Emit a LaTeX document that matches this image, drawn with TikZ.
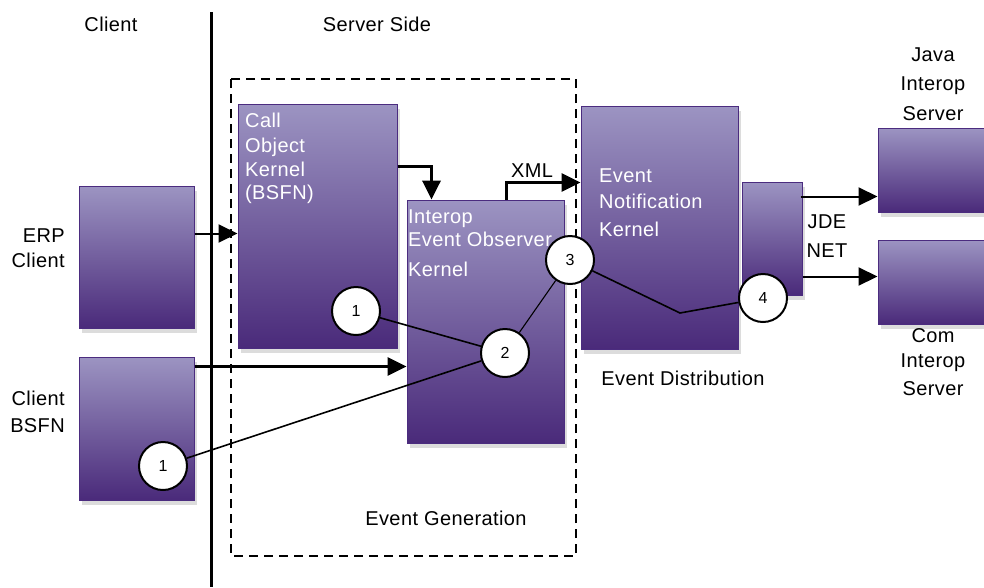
\documentclass[tikz,border=0pt]{standalone}
\usepackage{fontspec}
\setmainfont{Liberation Sans}[LetterSpace=2]
\usetikzlibrary{arrows.meta,shadows,calc}
\definecolor{boxtop}{HTML}{9C94C2}
\definecolor{boxbot}{HTML}{4A2A7A}
\definecolor{boxedge}{HTML}{4B2C7F}
\definecolor{shadowgray}{HTML}{DCDCDC}
\begin{document}
\begin{tikzpicture}[x=1pt,y=-1pt,
  txt/.style={font=\fontsize{20}{24}\selectfont, inner sep=0pt},
  lbl/.style={txt, text=black, anchor=base},
  lblr/.style={txt, text=black, anchor=base east},
  wtxt/.style={txt, text=white, anchor=base west},
  box/.style={draw=boxedge, line width=1pt, top color=boxtop, bottom color=boxbot,
    inner sep=0pt,
    general shadow={fill=shadowgray, shadow xshift=3pt, shadow yshift=-5pt}},
  num/.style={circle, draw=black, line width=2pt, fill=white, minimum size=48pt,
    inner sep=0pt, font=\fontsize{16}{18}\selectfont},
  arr/.style={draw=black, -{Triangle[length=19pt,width=18pt]}},
  link/.style={draw=black, line width=1.6pt},
]
\useasboundingbox (0,0) rectangle (984,587);

% client / server divider and the event-generation frame
\draw[line width=3pt] (211,12) coordinate (divtop) -- (211,587) coordinate (divbot);
\draw[line width=2pt, dash pattern=on 9pt off 6pt] (231,79) coordinate (fr1) rectangle (576,556) coordinate (fr2);

% column headings
\node[lbl] (hclient) at (111,31) {Client};
\node[lbl] (hserver) at (377,31) {Server Side};

% boxes
\node[box, minimum width=115pt, minimum height=142pt] (erp)   at (136.5,257) {};
\node[box, minimum width=115pt, minimum height=143pt] (cbsfn) at (136.5,428.5) {};
\node[box, minimum width=159pt, minimum height=244pt] (call)  at (317.5,226) {};
\node[box, minimum width=157pt, minimum height=243pt] (iobs)  at (485.5,321.5) {};
\node[box, minimum width=157pt, minimum height=243pt] (enk)   at (659.5,227.5) {};
\node[box, minimum width=60pt,  minimum height=113pt] (jde)   at (772,238.5) {};
\node[box, minimum width=108pt, minimum height=84pt]  (java)  at (932,170) {};
\node[box, minimum width=108pt, minimum height=84pt]  (com)   at (932,282) {};

% texts inside boxes
\node[wtxt] (t1) at (245,127) {Call};
\node[wtxt] (t2) at (245,152) {Object};
\node[wtxt] (t3) at (245,176) {Kernel};
\node[wtxt] (t4) at (245,199) {(BSFN)};
\node[wtxt] (t5) at (408,223) {Interop};
\node[wtxt] (t6) at (408,246) {Event Observer};
\node[wtxt] (t7) at (408,276) {Kernel};
\node[wtxt] (t8) at (599,182) {Event};
\node[wtxt] (t9) at (599,208) {Notification};
\node[wtxt] (t10) at (599,236) {Kernel};

% outside labels
\node[lblr] (l1) at (65,242) {ERP};
\node[lblr] (l2) at (65,267) {Client};
\node[lblr] (l3) at (65,405) {Client};
\node[lblr] (l4) at (65,432) {BSFN};
\node[lbl] (l5) at (933,61) {Java};
\node[lbl] (l6) at (933,90) {Interop};
\node[lbl] (l7) at (933,120) {Server};
\node[lbl] (l8) at (933,342) {Com};
\node[lbl] (l9) at (933,367) {Interop};
\node[lbl] (l10) at (933,395) {Server};
\node[lbl] (l11) at (827,228) {JDE};
\node[lbl] (l12) at (827,257) {NET};
\node[lbl] (l13) at (532,177) {XML};
\node[lbl] (l14) at (683,385) {Event Distribution};
\node[lbl] (l15) at (446,525) {Event Generation};

% arrows
\coordinate (a1) at ($(erp.north east)+(0,48)$);
\draw[arr, line width=2pt] (a1) -- (a1 -| call.west);
\coordinate (a2) at ($(cbsfn.north east)+(0,10)$);
\draw[arr, line width=3pt] (a2) -- (a2 -| iobs.west);
\draw[arr, line width=3.5pt] ($(call.north east)+(0,63)$) -| ($(iobs.north west)+(25,0)$);
\draw[arr, line width=3pt] ($(iobs.north west)+(100,0)$) |- ($(enk.north west)+(0,77)$);
\coordinate (a3) at ($(jde.north east)+(-2,15)$);
\draw[arr, line width=2pt] (a3) -- (a3 -| java.west);
\coordinate (a4) at ($(jde.north east)+(0,95)$);
\draw[arr, line width=2pt] (a4) -- (a4 -| com.west);

% numbered event steps
\node[num] (n1a) at (356,311) {1};
\node[num] (n1b) at (163,466) {1};
\node[num] (n2)  at (505,353) {2};
\node[num] (n3)  at (570,260) {3};
\node[num] (n4)  at (763,298) {4};
\coordinate (bend) at (680,313);
\draw[link] (n1a) -- (n2);
\draw[link] (n1b) -- (n2);
\draw[link, line width=1.1pt] (n2) -- (n3);
\draw[link] (n3) -- (bend) -- (n4);
\end{tikzpicture}
\end{document}
